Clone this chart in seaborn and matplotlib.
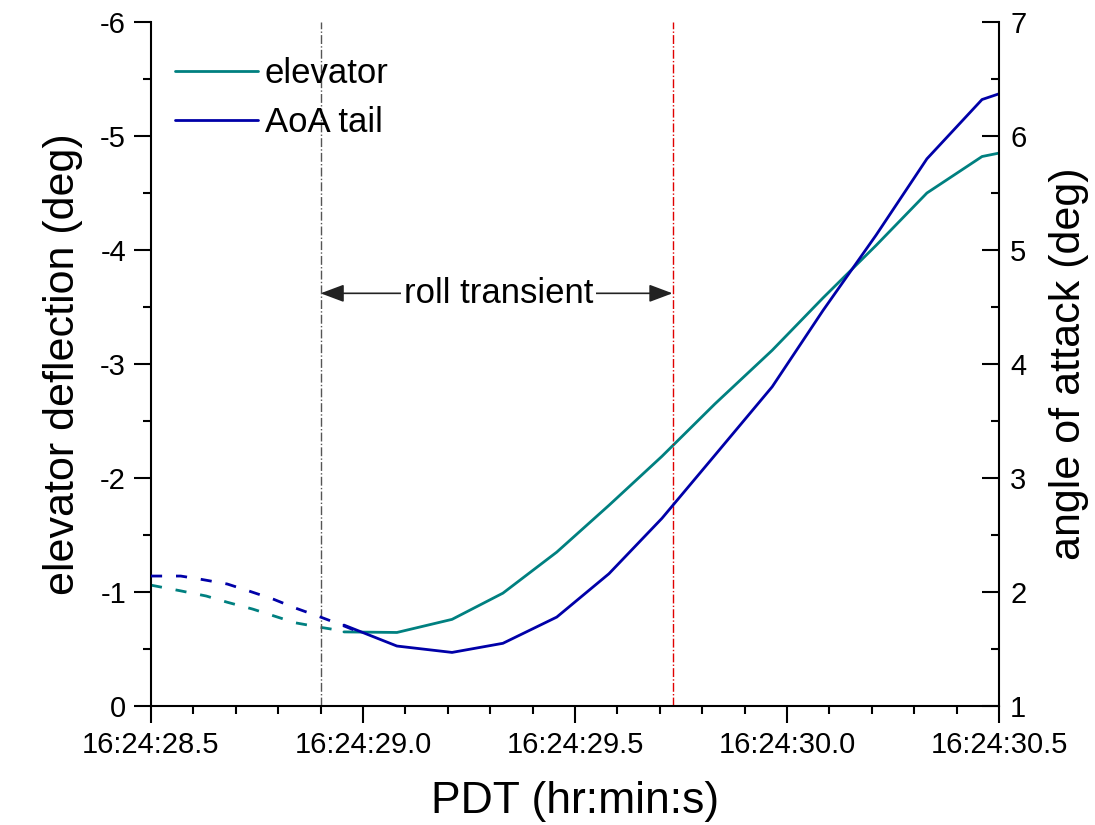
import matplotlib
matplotlib.use("Agg")
import matplotlib.pyplot as plt
import seaborn as sns
import pandas as pd
from matplotlib.ticker import MultipleLocator, FuncFormatter
from matplotlib.lines import Line2D

# data: time in seconds after 16:24:00
elev_t_dash = [28.50, 28.57, 28.63, 28.68, 28.74, 28.79, 28.84, 28.90, 28.95]
elev_dash = [-1.06, -1.01, -0.965, -0.91, -0.85, -0.79, -0.73, -0.69, -0.66]

aoa_t_dash = [28.50, 28.57, 28.62, 28.68, 28.73, 28.79, 28.84, 28.90, 28.95, 28.99]
aoa_dash = [2.14, 2.14, 2.11, 2.07, 2.01, 1.935, 1.86, 1.78, 1.71, 1.65]

t_solid = [28.955, 29.08, 29.21, 29.33, 29.457, 29.58, 29.705, 29.83, 29.965,
           30.085, 30.21, 30.33, 30.46, 30.50]
elev_solid = [-0.65, -0.645, -0.76, -0.99, -1.35, -1.76, -2.19, -2.65, -3.12,
              -3.58, -4.04, -4.50, -4.82, -4.85]
aoa_solid = [1.71, 1.526, 1.47, 1.55, 1.78, 2.16, 2.646, 3.20, 3.80,
             4.47, 5.13, 5.80, 6.32, 6.37]

roll_start = 28.90
roll_end = 29.73

sns.set_style("ticks")
plt.rcParams['font.family'] = ['Liberation Sans', 'DejaVu Sans']
plt.rcParams['axes.unicode_minus'] = False
for k in ('text.color', 'axes.labelcolor', 'xtick.color', 'ytick.color'):
    plt.rcParams[k] = 'black'

c_elev = '#008080'
c_aoa = '#0000A8'
lw = 2.0

fig = plt.figure(figsize=(10.95, 8.25), dpi=100)
fig.subplots_adjust(left=151/1095, right=999/1095, bottom=1-706/825, top=1-22/825)
ax = fig.add_subplot(111)
ax2 = ax.twinx()

df_elev_d = pd.DataFrame({'t': elev_t_dash, 'v': elev_dash})
df_elev_s = pd.DataFrame({'t': t_solid, 'v': elev_solid})
df_aoa_d = pd.DataFrame({'t': aoa_t_dash, 'v': aoa_dash})
df_aoa_s = pd.DataFrame({'t': t_solid, 'v': aoa_solid})

sns.lineplot(data=df_elev_d, x='t', y='v', ax=ax, color=c_elev, lw=lw,
             linestyle=(0, (4, 5)), errorbar=None)
sns.lineplot(data=df_elev_s, x='t', y='v', ax=ax, color=c_elev, lw=lw, errorbar=None)
sns.lineplot(data=df_aoa_d, x='t', y='v', ax=ax2, color=c_aoa, lw=lw,
             linestyle=(0, (4, 5)), errorbar=None)
sns.lineplot(data=df_aoa_s, x='t', y='v', ax=ax2, color=c_aoa, lw=lw, errorbar=None)

# transient markers
ax.axvline(roll_start, color='#555555', ls='-.', lw=1.0)
ax.axvline(roll_end, color='#e00000', ls='-.', lw=1.0)

# axes limits / ticks
ax.set_xlim(28.5, 30.5)
ax.set_ylim(0, -6)
ax2.set_ylim(1, 7)
ax.xaxis.set_major_locator(MultipleLocator(0.5))
ax.xaxis.set_minor_locator(MultipleLocator(0.1))
ax.xaxis.set_major_formatter(FuncFormatter(lambda v, p: f"16:24:{v:04.1f}"))
ax.yaxis.set_major_locator(MultipleLocator(1))
ax.yaxis.set_minor_locator(MultipleLocator(0.5))
ax.yaxis.set_major_formatter(FuncFormatter(lambda v, p: f"{v:.0f}" if v != 0 else "0"))
ax2.yaxis.set_major_locator(MultipleLocator(1))
ax2.yaxis.set_minor_locator(MultipleLocator(0.5))

tick_fs = 21
ax.tick_params(axis='both', which='major', direction='out', length=12, width=1.5,
               labelsize=tick_fs, pad=6)
ax.tick_params(axis='both', which='minor', direction='out', length=6, width=1.5)
ax2.tick_params(axis='y', which='major', direction='in', length=12, width=1.5,
                labelsize=tick_fs, pad=8)
ax2.tick_params(axis='y', which='minor', direction='in', length=6, width=1.5)

for a in (ax, ax2):
    a.spines['top'].set_visible(False)
    for s in ('left', 'right', 'bottom'):
        a.spines[s].set_linewidth(1.5)
        a.spines[s].set_color('black')
ax.spines['right'].set_visible(False)
ax2.spines['left'].set_visible(False)
ax2.spines['bottom'].set_visible(False)

ax.set_xlabel('PDT (hr:min:s)', fontsize=32, labelpad=16)
ax.set_ylabel('elevator deflection (deg)', fontsize=31, labelpad=12)
ax2.set_ylabel('angle of attack (deg)', fontsize=31, labelpad=16)

# roll transient annotation
arr_y = -3.62
mid = 29.32
arrow_kw = dict(arrowstyle='-|>,head_length=0.8,head_width=0.3', color='#222222',
                lw=1.2, mutation_scale=18, shrinkA=0, shrinkB=0)
ax.annotate('', xy=(roll_start, arr_y), xytext=(mid, arr_y), arrowprops=arrow_kw)
ax.annotate('', xy=(roll_end, arr_y), xytext=(mid, arr_y), arrowprops=arrow_kw)
ax.text(mid, arr_y, 'roll transient', fontsize=25, ha='center', va='center',
        bbox=dict(facecolor='white', edgecolor='none', pad=2), zorder=5)

# legend
handles = [Line2D([], [], color=c_elev, lw=lw), Line2D([], [], color=c_aoa, lw=lw)]
leg = ax2.legend(handles, ['elevator', 'AoA tail'], loc='upper left',
                 bbox_to_anchor=(-0.013, 1.0), frameon=False, fontsize=25,
                 handlelength=2.4, handletextpad=0.2, labelspacing=0.48,
                 borderaxespad=0.7, borderpad=0.3)

fig.savefig('out.png', dpi=100)
